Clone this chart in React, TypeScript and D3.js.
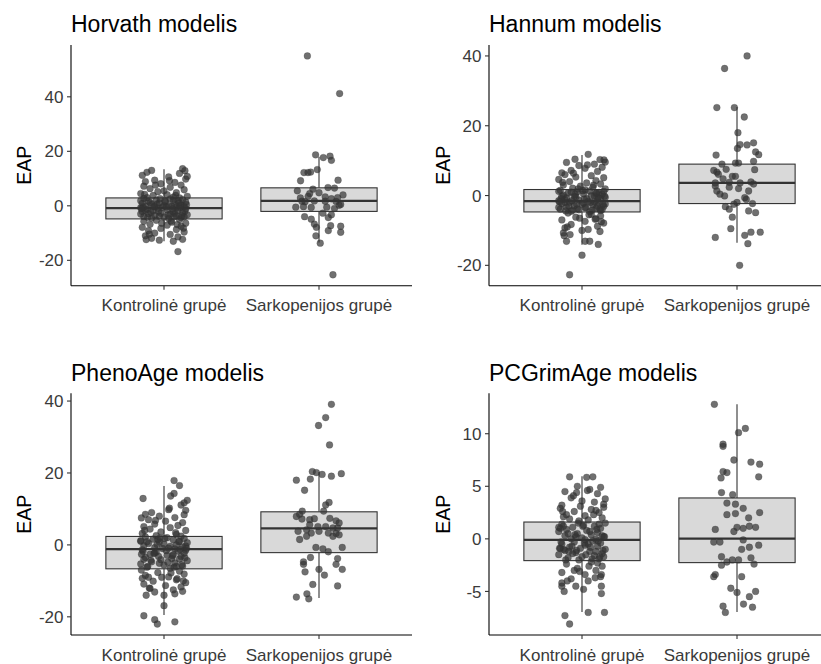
import React from 'react';
import * as d3 from 'd3';

const categories = ['Kontrolinė grupė', 'Sarkopenijos grupė'];
const panelTitles = ['Horvath modelis', 'Hannum modelis', 'PhenoAge modelis', 'PCGrimAge modelis'];
const yAxisTitle = 'EAP';

const horvathTicks = [-20, 0, 20, 40];
const hannumTicks = [-20, 0, 20, 40];
const phenoTicks = [-20, 0, 20, 40];
const grimTicks = [-5, 0, 5, 10];

// box stats per group: [lower whisker, q1, median, q3, upper whisker]
const horvathBox = [[-13, -4.8, -0.85, 2.9, 13.4], [-13.5, -2.05, 1.8, 6.6, 18]];
const hannumBox = [[-14.1, -4.7, -1.6, 1.72, 11.6], [-13.5, -2.3, 3.6, 9.0, 25.4]];
const phenoBox = [[-19.5, -6.65, -1.2, 2.35, 16.4], [-14.8, -2.15, 4.6, 9.2, 20.3]];
const grimBox = [[-6.95, -2.07, -0.1, 1.6, 5.95], [-6.95, -2.26, 0.03, 3.89, 12.8]];

// jittered points: [horizontal jitter (fraction of category step), value]
const horvathCtrl = [
  [0.12, 13.6], [0.135, 12.9], [-0.11, 12.3], [-0.08, 13.0], [0.1, 11.9], [-0.14, 11.2], [0.03, 10.6], [0.14, 9.8], [-0.06, 9.4], [-0.12, 8.9],
  [0.07, 8.6], [-0.02, 8.1], [0.11, 7.6], [-0.13, 7.2], [0.04, 6.8], [-0.09, 6.3], [0.13, 5.9], [0.0, 5.5], [-0.04, 5.2],
  [0.08, 4.8], [-0.15, 4.5], [0.02, 4.1], [-0.07, 3.8], [0.15, 3.5], [0.06, 3.2], [-0.11, 3.0], [0.1, 2.95],
  [-0.13, 2.7], [0.04, 2.5], [0.12, 2.3], [-0.05, 2.1], [0.09, 1.9], [-0.1, 1.7], [0.01, 1.5], [0.14, 1.3], [-0.03, 1.1], [-0.14, 0.9],
  [0.07, 0.7], [-0.08, 0.5], [0.11, 0.3], [0.0, 0.1], [-0.12, -0.1], [0.05, -0.2], [0.13, -0.3], [-0.06, -0.4], [0.08, -0.5], [-0.01, -0.6],
  [-0.15, -0.7], [0.1, -0.75], [0.03, 0.0], [-0.09, 1.2], [0.06, 2.0],
  [-0.04, -0.9], [0.14, -1.1], [-0.11, -1.3], [0.02, -1.5], [0.09, -1.7], [-0.07, -1.9], [-0.14, -2.1], [0.06, -2.3], [0.12, -2.5], [-0.02, -2.7],
  [-0.1, -2.9], [0.04, -3.1], [0.15, -3.3], [-0.06, -3.5], [0.08, -3.7], [-0.13, -3.9], [0.0, -4.1], [0.11, -4.3], [-0.08, -4.5], [0.03, -4.7],
  [-0.12, -1.6], [0.07, -2.8], [-0.03, -3.8], [0.13, -4.0], [-0.15, -3.0],
  [0.1, -5.0], [-0.05, -5.3], [-0.13, -5.7], [0.05, -6.0], [0.14, -6.4], [-0.09, -6.8], [0.02, -7.1], [0.11, -7.5], [-0.14, -7.9], [-0.02, -8.3],
  [0.08, -8.7], [-0.1, -9.1], [0.13, -9.6], [-0.06, -10.0], [0.04, -10.5], [-0.12, -11.0], [0.09, -11.4], [-0.08, -11.9], [0.12, -12.3], [-0.03, -12.6],
  [0.06, -13.0], [0.09, -16.8],
];
const horvathCtrlMore = [
  [-0.135, -0.5], [0.145, 0.4], [-0.025, 2.6], [0.055, -1.2], [-0.085, -2.4], [0.115, -3.6], [-0.045, 0.6], [0.025, -3.3], [-0.105, -4.2], [0.095, 1.1],
  [0.135, -1.9], [-0.15, 1.9], [0.015, -0.4], [-0.065, -0.2], [0.075, 3.8], [-0.125, 4.2], [0.045, -5.6], [-0.015, -6.4], [0.125, -8.2], [-0.095, -10.4],
  [0.065, -4.0], [-0.035, -2.0], [0.105, -0.1], [-0.145, -1.0], [0.005, 1.8], [0.085, -6.9], [-0.055, 7.6], [0.035, 9.2], [-0.115, -12.4], [0.15, 10.8],
];
const horvathSarc = [
  [-0.075, 55], [0.133, 41.2], [-0.022, 18.7], [0.028, 17.7], [0.071, 18.2], [0.08, 16.7], [-0.011, 13.3], [-0.097, 12.2], [-0.071, 12.2], [-0.054, 12.4],
  [-0.119, 9.2], [0.123, 9.4], [-0.14, 5.5], [-0.039, 6.1], [0.058, 6.7], [0.1, 6.5], [0.155, 4.0], [-0.06, 4.5], [-0.07, 3.5], [0.04, 3.3],
  [0.08, 2.6], [-0.11, 1.7], [-0.09, 1.5], [-0.03, 1.8], [0.04, 1.7], [0.11, 1.6], [0.14, 0.5], [-0.15, -0.5], [-0.1, -0.3], [-0.05, -0.6],
  [0.05, -0.5], [0.1, -1.0], [0.13, 0.2], [-0.093, -4.0], [-0.05, -4.9], [-0.03, -6.7], [0.025, -2.7], [0.08, -3.3], [0.06, -4.3], [-0.017, -7.9],
  [0.075, -7.3], [0.06, -9.1], [0.14, -7.5], [0.14, -9.7], [-0.02, -11.0], [0.008, -13.7], [0.09, -25.3], [0.0, 4.8], [-0.12, 2.9], [0.12, 3.0],
];

const hannumCtrl = [
  [0.04, 11.8], [-0.045, 10.4], [0.116, 10.3], [0.142, 10.2], [-0.1, 9.5], [0.08, 9.0], [-0.02, 8.6], [0.13, 8.1], [-0.13, 6.5], [0.02, 7.8],
  [-0.07, 7.2], [0.1, 6.9], [-0.11, 6.0], [0.06, 5.7], [-0.04, 5.3], [0.14, 5.1],
  [-0.15, 4.6], [0.09, 4.3], [-0.08, 4.0], [0.03, 3.6], [0.12, 3.3], [-0.12, 3.0], [-0.01, 2.7], [0.07, 2.4], [-0.06, 2.1], [0.15, 1.9],
  [-0.14, 1.5], [0.05, 1.3], [-0.03, 1.1], [0.11, 0.9], [-0.09, 0.7], [0.01, 0.5], [0.13, 0.3], [-0.12, 0.1], [0.08, -0.1], [-0.05, -0.3],
  [0.15, -0.5], [-0.1, -0.7], [0.03, -0.9], [0.1, -1.1], [-0.02, -1.3], [-0.15, -1.5], [0.06, 0.0], [-0.07, 1.0], [0.12, -0.8], [-0.11, -1.2],
  [0.02, 1.6], [0.09, 0.6], [-0.04, -0.4], [0.14, 1.2], [-0.13, -0.2],
  [0.04, -1.7], [-0.08, -1.9], [0.11, -2.1], [-0.13, -2.3], [0.0, -2.5], [0.07, -2.7], [-0.05, -2.9], [0.14, -3.1], [-0.1, -3.3], [0.02, -3.5],
  [0.09, -3.7], [-0.14, -3.9], [-0.02, -4.1], [0.12, -4.3], [-0.07, -4.5], [0.05, -4.6], [-0.11, -2.0], [0.1, -3.0], [-0.03, -3.8], [0.15, -2.4],
  [-0.06, -4.2], [0.08, -1.8], [-0.15, -3.4], [0.01, -2.2], [0.13, -4.0],
  [-0.09, -5.0], [0.06, -5.4], [0.12, -5.8], [-0.04, -6.2], [0.09, -6.6], [-0.13, -7.0], [0.02, -7.4], [0.14, -7.9], [-0.07, -8.3], [0.1, -8.8],
  [-0.11, -9.3], [0.04, -9.7], [0.116, -10.3], [-0.12, -10.7], [-0.077, -11.2], [-0.1, -13.1], [0.02, -13.1], [0.05, -13.1], [0.105, -14.0], [0.0, -17.1],
  [-0.08, -22.7], [0.0, -10.0],
];
const hannumCtrlMore = [
  [-0.135, -0.9], [0.145, -0.2], [-0.025, 1.9], [0.055, -2.0], [-0.085, -3.0], [0.115, -3.9], [-0.045, 0.3], [0.025, -3.4], [-0.105, -4.4], [0.095, 0.8],
  [0.135, -2.6], [-0.15, 1.2], [0.015, -1.0], [-0.065, -1.5], [0.075, 3.0], [-0.125, 3.8], [0.045, -5.5], [-0.015, -6.5], [0.125, -7.5], [-0.095, -9.0],
  [0.065, -4.2], [-0.035, -2.4], [0.105, -0.6], [-0.145, -1.8], [0.005, 1.4], [0.085, -6.8], [-0.055, 6.4], [0.035, 8.8], [-0.115, -11.5], [0.15, 9.6],
];
const hannumSarc = [
  [0.065, 40.0], [-0.08, 36.4], [-0.13, 25.2], [-0.017, 25.2], [0.047, 22.5], [0.006, 18.0], [0.02, 14.6], [0.065, 14.5], [0.107, 15.1], [0.003, 13.5],
  [0.12, 12.5], [0.14, 11.7], [-0.135, 11.6], [0.107, 9.8], [0.114, 7.4], [-0.01, 9.3], [0.01, 9.3], [-0.097, 9.0], [-0.15, 7.2], [-0.13, 6.7],
  [-0.12, 6.1], [-0.07, 7.5], [-0.03, 5.5], [-0.01, 5.5], [-0.09, 4.8], [-0.05, 3.8], [-0.14, 3.6], [-0.14, 2.7], [0.02, 3.6], [0.09, 3.9],
  [0.107, 3.3], [-0.05, 2.4], [0.01, 2.0], [0.075, 1.3], [-0.13, 1.3], [-0.11, 0.4], [-0.08, -0.1], [0.05, -0.6], [0.06, -1.1], [0.1, -2.3],
  [0.0, -2.0], [-0.02, -2.5], [-0.075, -3.2], [-0.05, -3.9], [0.075, -4.4], [0.12, -4.9], [-0.03, -6.2], [-0.04, -9.5], [-0.14, -12.0], [0.05, -11.4],
  [0.09, -10.5], [0.15, -10.5], [0.07, -13.8], [0.017, -20.0],
];

const phenoCtrl = [
  [0.065, 17.9], [0.1, 16.5], [0.065, 14.3], [0.043, 13.6], [-0.135, 12.9], [0.13, 11.7], [0.11, 11.1], [0.03, 9.8], [0.14, 9.6], [-0.08, 9.0],
  [-0.12, 8.5], [0.13, 8.4], [-0.146, 7.5], [-0.03, 8.0], [0.07, 7.6], [-0.1, 7.0], [0.01, 6.6], [0.12, 6.2], [-0.06, 5.8], [0.09, 5.4], [-0.13, 5.1],
  [0.04, 4.8], [-0.09, 4.4], [0.14, 4.0], [-0.02, 3.6], [-0.14, 3.2], [0.08, 2.9], [-0.05, 2.6], [0.11, 2.4],
  [-0.12, 2.2], [0.02, 2.0], [0.13, 1.8], [-0.07, 1.6], [0.06, 1.4], [-0.15, 1.2], [0.1, 1.0], [-0.03, 0.8], [0.15, 0.6], [-0.1, 0.4],
  [0.0, 0.2], [0.08, 0.0], [-0.13, -0.2], [0.04, -0.4], [0.12, -0.6], [-0.06, -0.8], [-0.01, -1.0], [0.07, -1.1], [-0.11, 0.9], [0.14, -0.3],
  [-0.04, 1.5], [0.03, -0.9],
  [-0.14, -1.4], [0.09, -1.7], [-0.05, -2.0], [0.13, -2.3], [-0.09, -2.6], [0.02, -2.9], [0.11, -3.2], [-0.12, -3.5], [0.05, -3.8], [-0.02, -4.1],
  [0.15, -4.4], [-0.08, -4.7], [0.07, -5.0], [-0.15, -5.3], [0.0, -5.6], [0.12, -5.9], [-0.11, -6.2], [0.04, -6.5], [-0.06, -2.2], [0.1, -3.9],
  [-0.03, -5.1], [0.14, -1.5], [-0.13, -4.0], [0.06, -2.7], [0.08, -6.0],
  [-0.146, -7.0], [0.1, -7.3], [-0.04, -7.7], [0.13, -8.1], [-0.12, -8.5], [0.03, -8.9], [-0.14, -9.3], [0.08, -9.7], [-0.07, -10.1], [0.14, -10.5],
  [-0.13, -10.9], [0.01, -11.3], [0.11, -11.7], [-0.09, -12.1], [0.06, -12.5], [-0.06, -13.1], [0.0, -14.0], [0.07, -13.6], [0.12, -12.9], [0.0, -16.9],
  [-0.13, -19.7], [-0.06, -20.8], [-0.043, -22.0], [0.07, -21.4], [-0.1, -9.0],
];
const phenoCtrlMore = [
  [-0.135, -1.8], [0.145, -0.9], [-0.025, 1.9], [0.055, -3.0], [-0.085, -4.3], [0.115, -5.5], [-0.045, 0.1], [0.025, -4.8], [-0.105, -6.0], [0.095, 0.9],
  [0.135, -3.6], [-0.15, 1.0], [0.015, -1.6], [-0.065, -2.4], [0.075, 3.4], [-0.125, 4.0], [0.045, -7.8], [-0.015, -9.0], [0.125, -10.0], [-0.095, -12.0],
  [0.065, -6.2], [-0.035, -3.2], [0.105, -1.3], [-0.145, -2.6], [0.005, 1.8], [0.085, -9.4], [-0.055, 6.8], [0.035, 10.2], [-0.115, -14.0], [0.15, 12.4],
];
const phenoSarc = [
  [0.08, 39.1], [0.043, 35.4], [-0.003, 33.2], [0.068, 27.8], [-0.043, 20.4], [-0.017, 20.1], [0.02, 19.6], [0.08, 19.1], [0.144, 19.8], [-0.146, 18.0],
  [-0.056, 18.3], [-0.093, 15.2], [0.065, 11.8], [0.043, 11.1], [-0.108, 9.4], [-0.125, 8.5], [0.03, 9.4], [-0.146, 7.9], [-0.11, 7.2], [-0.06, 7.0],
  [-0.03, 7.3], [0.07, 7.4], [0.11, 6.7], [0.13, 6.1], [-0.06, 5.6], [-0.007, 5.1], [0.043, 5.1], [0.09, 4.7], [0.12, 4.7], [-0.135, 3.8],
  [-0.08, 4.2], [-0.05, 3.3], [0.0, 3.8], [0.06, 3.3], [0.11, 3.2], [-0.125, 1.5], [-0.08, 2.4], [0.09, 2.4], [0.13, 2.8], [-0.02, -0.7],
  [0.025, -1.1], [0.06, -1.9], [0.15, -0.7], [-0.055, -3.5], [-0.1, -4.7], [-0.1, -5.4], [0.12, -3.8], [0.11, -5.4], [0.15, -6.8], [0.0, -6.8],
  [-0.09, -7.5], [0.035, -8.4], [-0.04, -11.0], [0.12, -11.4], [-0.146, -14.5], [-0.078, -13.6], [-0.066, -15.0],
];

const grimCtrl = [
  [-0.08, 5.9], [0.03, 5.85], [0.07, 5.9], [-0.03, 5.0], [0.12, 4.9], [-0.11, 4.5], [0.05, 4.7], [0.1, 4.3], [-0.035, 4.4], [0.14, 3.3],
  [0.14, 3.0], [-0.13, 3.2], [0.0, 3.6], [-0.07, 3.9], [0.08, 3.5], [-0.01, 3.1],
  [-0.14, 2.9], [0.06, 2.8], [-0.05, 2.6], [0.11, 2.5], [-0.1, 2.3], [0.02, 2.2], [0.13, 2.0], [-0.08, 1.9], [0.04, 1.8], [-0.02, 1.7],
  [0.09, 2.7], [-0.12, 2.1],
  [0.15, 1.5], [-0.13, 1.4], [0.01, 1.3], [0.08, 1.2], [-0.06, 1.1], [0.12, 1.0], [-0.1, 0.9], [0.03, 0.8], [-0.15, 0.7], [0.1, 0.6],
  [-0.03, 0.5], [0.06, 0.4], [-0.11, 0.3], [0.14, 0.2], [0.0, 0.1], [-0.07, 0.0], [0.09, -0.05], [-0.14, 1.0], [0.05, 0.7], [-0.04, 0.2],
  [0.11, 1.4], [-0.09, 0.5], [0.02, -0.08], [0.13, 0.3], [-0.12, 1.2],
  [0.07, -0.2], [-0.05, -0.3], [0.12, -0.4], [-0.13, -0.5], [0.02, -0.6], [0.1, -0.7], [-0.08, -0.8], [-0.01, -0.9], [0.15, -1.0], [-0.11, -1.1],
  [0.05, -1.2], [-0.04, -1.3], [0.13, -1.4], [-0.15, -1.5], [0.08, -1.6], [0.0, -1.7], [-0.09, -1.8], [0.11, -1.9], [-0.02, -2.0], [0.04, -0.5],
  [-0.12, -1.0], [0.14, -1.7], [-0.06, -1.4], [0.09, -1.2], [-0.14, -0.9],
  [0.06, -2.2], [-0.1, -2.4], [0.13, -2.6], [-0.03, -2.8], [0.09, -3.0], [-0.13, -3.2], [0.02, -3.4], [0.12, -3.6], [-0.07, -3.8], [0.04, -4.0],
  [-0.13, -4.2], [-0.13, -4.5], [-0.04, -4.5], [0.01, -4.8], [0.125, -4.5], [0.125, -5.2], [-0.11, -7.3], [-0.08, -8.1], [0.04, -7.0], [0.145, -7.0],
  [-0.05, -3.0], [0.1, -2.3],
];
const grimCtrlMore = [
  [-0.135, -0.3], [0.145, 0.2], [-0.025, 1.5], [0.055, -0.8], [-0.085, -1.2], [0.115, -1.7], [-0.045, 0.4], [0.025, -1.5], [-0.105, -2.0], [0.095, 0.9],
  [0.135, -1.1], [-0.15, 1.1], [0.015, -0.4], [-0.065, -0.7], [0.075, 2.3], [-0.125, 2.6], [0.045, -2.6], [-0.015, -3.1], [0.125, -3.4], [-0.095, -4.0],
  [0.065, -1.9], [-0.035, -1.1], [0.105, -0.2], [-0.145, -0.9], [0.005, 1.2], [0.085, -3.7], [-0.055, 4.1], [0.035, 4.6], [-0.115, -5.0], [0.15, 3.8],
];
const grimSarc = [
  [-0.146, 12.8], [0.054, 10.5], [0.01, 10.1], [-0.09, 9.0], [-0.09, 8.8], [-0.02, 7.5], [0.09, 7.3], [0.146, 7.1], [-0.09, 6.4], [-0.065, 6.3],
  [-0.103, 5.8], [0.14, 5.9], [-0.1, 4.4], [-0.028, 4.2], [-0.065, 3.4], [-0.01, 3.3], [0.04, 2.9], [-0.065, 2.3], [-0.01, 2.4], [0.075, 2.0],
  [0.146, 2.5], [0.0, 1.1], [-0.14, 0.9], [-0.02, 0.7], [0.04, 1.0], [0.08, 1.2], [0.12, 1.1], [-0.15, -0.3], [-0.11, -0.3], [0.04, -0.1],
  [0.14, -0.6], [0.08, -0.8], [0.03, -1.0], [-0.1, -1.7], [-0.1, -2.5], [-0.065, -2.2], [-0.03, -2.0], [0.01, -2.0], [0.09, -1.8], [0.11, -2.4],
  [-0.14, -3.4], [0.03, -3.6], [-0.04, -4.7], [0.0, -5.1], [0.08, -5.5], [0.12, -5.0], [0.042, -6.2], [0.1, -6.5], [-0.09, -6.4], [-0.075, -7.0],
  [-0.15, -3.6],
];

const panels = [
  { title: panelTitles[0], ctrl: [...horvathCtrl, ...horvathCtrlMore], sarc: horvathSarc, box: horvathBox, ticks: horvathTicks, left: 71, top: 45, bottom: 285.7, titleY: 31.5, eapX: 31 },
  { title: panelTitles[1], ctrl: [...hannumCtrl, ...hannumCtrlMore], sarc: hannumSarc, box: hannumBox, ticks: hannumTicks, left: 489, top: 45, bottom: 285.7, titleY: 31.5, eapX: 449.5 },
  { title: panelTitles[2], ctrl: [...phenoCtrl, ...phenoCtrlMore], sarc: phenoSarc, box: phenoBox, ticks: phenoTicks, left: 71, top: 393.3, bottom: 635, titleY: 381, eapX: 31 },
  { title: panelTitles[3], ctrl: [...grimCtrl, ...grimCtrlMore], sarc: grimSarc, box: grimBox, ticks: grimTicks, left: 489, top: 393.3, bottom: 635, titleY: 381, eapX: 449.5 },
];

const FONT = "'Liberation Sans', Arial, sans-serif";
const PANEL_W = 341;

function Panel({ p }: { p: any }) {
  const x = d3.scalePoint<string>().domain(categories).range([p.left, p.left + PANEL_W]).padding(0.6);
  const step = x.step();
  const vals: number[] = [
    ...p.ctrl.map((d: number[]) => d[1]),
    ...p.sarc.map((d: number[]) => d[1]),
    ...p.box.flat(),
  ];
  const [mn, mx] = d3.extent(vals) as [number, number];
  const pad = (mx - mn) * 0.05;
  const y = d3.scaleLinear().domain([mn - pad, mx + pad]).range([p.bottom, p.top]);
  const boxW = step * 0.75;
  const groups = [p.ctrl, p.sarc];
  return (
    <g>
      <text x={p.left} y={p.titleY} fontSize={23} fill="#000" fontFamily={FONT}>{p.title}</text>
      <text transform={`translate(${p.eapX},${(p.top + p.bottom) / 2}) rotate(-90)`} textAnchor="middle" fontSize={19.5} fill="#000" fontFamily={FONT}>{yAxisTitle}</text>
      {p.box.map((b: number[], i: number) => {
        const cx = x(categories[i])!;
        return (
          <g key={'b' + i}>
            <line x1={cx} x2={cx} y1={y(b[0])} y2={y(b[1])} stroke="#333" strokeWidth={1.1} />
            <line x1={cx} x2={cx} y1={y(b[3])} y2={y(b[4])} stroke="#333" strokeWidth={1.1} />
            <rect x={cx - boxW / 2} y={y(b[3])} width={boxW} height={y(b[1]) - y(b[3])} fill="#d9d9d9" stroke="#333" strokeWidth={1.1} />
            <line x1={cx - boxW / 2} x2={cx + boxW / 2} y1={y(b[2])} y2={y(b[2])} stroke="#333" strokeWidth={2.3} />
          </g>
        );
      })}
      {groups.map((g: number[][], gi: number) => (
        <g key={'g' + gi}>
          {g.map((d, k) => (
            <circle key={k} cx={x(categories[gi])! + d[0] * step} cy={y(d[1])} r={3.4}
              fill="#333" fillOpacity={0.7} stroke="#333" strokeOpacity={0.4} strokeWidth={0.6} />
          ))}
        </g>
      ))}
      <line x1={p.left} x2={p.left} y1={p.top} y2={p.bottom} stroke="#000" strokeWidth={1.1} />
      <line x1={p.left} x2={p.left + PANEL_W} y1={p.bottom} y2={p.bottom} stroke="#000" strokeWidth={1.1} />
      {p.ticks.map((t: number) => (
        <g key={'t' + t}>
          <line x1={p.left - 4} x2={p.left} y1={y(t)} y2={y(t)} stroke="#333" strokeWidth={1.1} />
          <text x={p.left - 7.5} y={y(t)} dy="0.36em" textAnchor="end" fontSize={17} fill="#3a3a3a" fontFamily={FONT}>{t}</text>
        </g>
      ))}
      {categories.map((c) => (
        <g key={c}>
          <line x1={x(c)} x2={x(c)} y1={p.bottom} y2={p.bottom + 4} stroke="#333" strokeWidth={1.1} />
          <text x={x(c)} y={p.bottom + 25.5} textAnchor="middle" fontSize={17} fill="#3a3a3a" fontFamily={FONT}>{c}</text>
        </g>
      ))}
    </g>
  );
}

export default function App() {
  return (
    <svg width={821} height={664} style={{ position: 'absolute', left: 0, top: 0, background: '#fff' }}>
      <rect width={821} height={664} fill="#fff" />
      {panels.map((p, i) => <Panel key={i} p={p} />)}
    </svg>
  );
}
